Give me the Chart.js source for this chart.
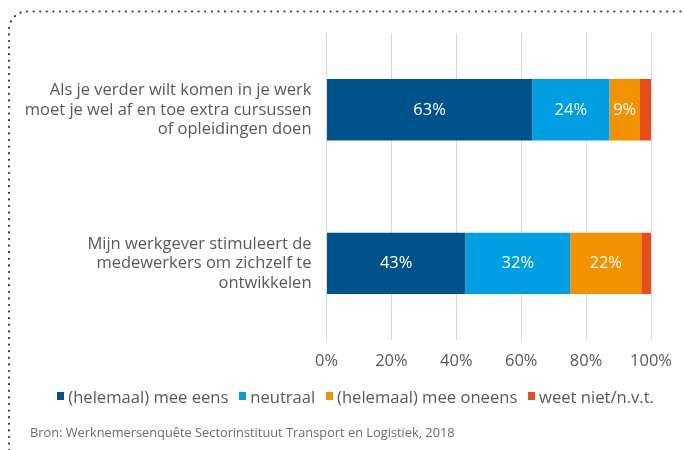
<!DOCTYPE html>
<html>
<head>
<meta charset="utf-8">
<script src="https://cdn.jsdelivr.net/npm/chart.js@4.4.1/dist/chart.umd.min.js"></script>
<style>
  html, body { margin: 0; padding: 0; background: #fff; }
  #wrap { position: relative; width: 684px; height: 450px; overflow: hidden; font-family: "Open Sans", sans-serif; }
  #frame { position: absolute; left: 0; top: 0; }
  #chartBox { position: absolute; left: 0; top: 0; width: 684px; height: 450px; }
  #legend { position: absolute; left: 57px; top: 384px; height: 24px; display: flex; align-items: center; font-size: 16.6px; color: #595959; white-space: nowrap; }
  #legend .item { display: flex; align-items: center; margin-right: 10.5px; }
  #legend .sw { width: 7.3px; height: 7.3px; margin-right: 4px; }
  #source { position: absolute; left: 30px; top: 423px; font-size: 12.8px; color: #6b6b6b; white-space: nowrap; }
</style>
</head>
<body>
<div id="wrap">
  <svg id="frame" width="684" height="450">
    <path d="M9,470 V29.5 A18,18 0 0 1 27,11.5 H700" fill="none" stroke="#333" stroke-width="2.2" stroke-linecap="round" stroke-dasharray="0 6.6"/>
  </svg>
  <div id="chartBox"><canvas id="c"></canvas></div>
  <div id="legend"></div>
  <div id="source">Bron: Werknemersenquête Sectorinstituut Transport en Logistiek, 2018</div>
</div>
<script>
const categories = [
  ["Als je verder wilt komen in je werk", "moet je wel af en toe extra cursussen", "of opleidingen doen"],
  ["Mijn werkgever stimuleert de", "medewerkers om zichzelf te", "ontwikkelen"]
];
const seriesNames = ["(helemaal) mee eens", "neutraal", "(helemaal) mee oneens", "weet niet/n.v.t."];
const agree = [63.4, 42.8];
const neutral = [23.8, 32.3];
const disagree = [9.4, 21.9];
const unknown = [3.4, 3.0];
const tickValues = [0, 20, 40, 60, 80, 100];
const colors = ["#00538a", "#009fe3", "#f39200", "#e84e1b"];

const seriesData = [agree, neutral, disagree, unknown];

const FONT = '"Open Sans", sans-serif';
const TEXT = '#595959';

const valueLabels = {
  id: 'valueLabels',
  afterDatasetsDraw(chart) {
    const ctx = chart.ctx;
    ctx.save();
    ctx.font = '16.5px ' + FONT;
    ctx.fillStyle = '#ffffff';
    ctx.textAlign = 'center';
    ctx.textBaseline = 'middle';
    chart.data.datasets.forEach((ds, di) => {
      const meta = chart.getDatasetMeta(di);
      meta.data.forEach((bar, i) => {
        const v = ds.data[i];
        if (v < 5) return;
        const x = (bar.x + bar.base) / 2;
        ctx.fillText(Math.round(v) + '%', x, bar.y);
      });
    });
    ctx.restore();
  }
};

new Chart(document.getElementById('c'), {
  type: 'bar',
  data: {
    labels: categories,
    datasets: seriesData.map((d, i) => ({
      label: seriesNames[i],
      data: d,
      backgroundColor: colors[i],
      borderWidth: 0,
      barPercentage: 0.4,
      categoryPercentage: 1
    }))
  },
  options: {
    indexAxis: 'y',
    responsive: true,
    maintainAspectRatio: false,
    animation: false,
    layout: { padding: { top: 33, right: 33, bottom: 68, left: 0 } },
    plugins: { legend: { display: false }, tooltip: { enabled: false } },
    scales: {
      x: {
        stacked: true,
        min: 0, max: 100,
        afterBuildTicks(scale) { scale.ticks = tickValues.map(v => ({ value: v })); },
        grid: { color: '#d9d9d9', lineWidth: 1, drawTicks: false },
        border: { display: false },
        ticks: {
          padding: 11,
          color: TEXT,
          font: { family: FONT, size: 16.5 },
          callback: v => v + '%'
        }
      },
      y: {
        stacked: true,
        grid: { display: false, drawTicks: false },
        border: { display: false },
        afterFit(scale) { scale.width = 326.5; scale.paddingTop = 0; scale.paddingBottom = 0; },
        ticks: {
          padding: 15,
          color: TEXT,
          font: { family: FONT, size: 16.5, lineHeight: 1.18 }
        }
      }
    }
  },
  plugins: [valueLabels]
});

const legend = document.getElementById('legend');
seriesNames.forEach((n, i) => {
  const it = document.createElement('div');
  it.className = 'item';
  it.innerHTML = '<span class="sw" style="background:' + colors[i] + '"></span><span>' + n + '</span>';
  legend.appendChild(it);
});
</script>
</body>
</html>
